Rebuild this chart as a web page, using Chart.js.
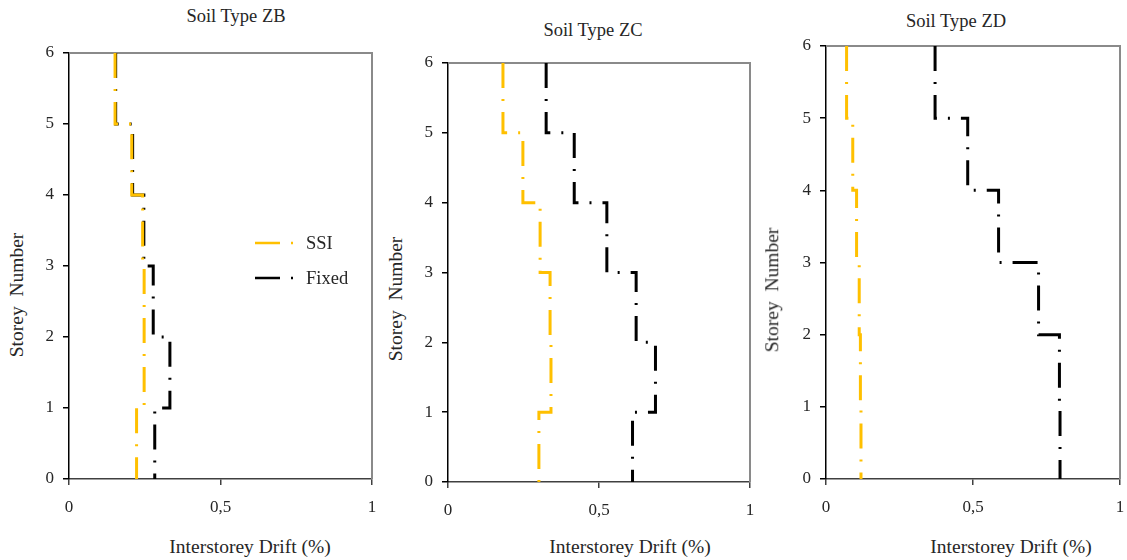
<!DOCTYPE html>
<html>
<head>
<meta charset="utf-8">
<script src="https://cdn.jsdelivr.net/npm/chart.js@4"></script>
<style>
  body {
    margin: 0;
    background: #fff;
    width: 1127px;
    height: 560px;
    position: relative;
    overflow: hidden;
    font-family: "Palatino Linotype", "Book Antiqua", Palatino, "Liberation Serif", serif;
    color: #262626;
  }
  .box { position: absolute; }
  .lbl {
    position: absolute;
    white-space: pre;
    transform: translate(-50%, -50%);
    font-size: 18.5px;
    line-height: 1;
  }
  .axis { font-size: 19.5px; }
  .rot { transform: translate(-50%, -50%) rotate(-90deg); }
</style>
</head>
<body>

<div class="box" id="boxZB"><canvas id="chartZB"></canvas></div>
<div class="box" id="boxZC"><canvas id="chartZC"></canvas></div>
<div class="box" id="boxZD"><canvas id="chartZD"></canvas></div>

<div class="lbl" style="left:236px; top:16px;">Soil Type ZB</div>
<div class="lbl" style="left:593px; top:30px;">Soil Type ZC</div>
<div class="lbl" style="left:956px; top:21px;">Soil Type ZD</div>

<div class="lbl axis" style="left:250px; top:547px;">Interstorey Drift (%)</div>
<div class="lbl axis" style="left:630px; top:547px;">Interstorey Drift (%)</div>
<div class="lbl axis" style="left:1011px; top:547px;">Interstorey Drift (%)</div>

<div class="lbl axis rot" style="left:17px; top:295px;">Storey  Number</div>
<div class="lbl axis rot" style="left:396px; top:299px;">Storey  Number</div>
<div class="lbl axis rot" style="left:772px; top:290px;">Storey  Number</div>

<script>
// storeys 1..6, drift (%) of each storey
const storeys = [1, 2, 3, 4, 5, 6];
const xTicks = [0, 0.5, 1];

const ssiZB   = [0.223, 0.248, 0.248, 0.243, 0.207, 0.152];
const fixedZB = [0.283, 0.333, 0.278, 0.247, 0.210, 0.154];

const ssiZC   = [0.301, 0.341, 0.338, 0.305, 0.248, 0.182];
const fixedZC = [0.611, 0.687, 0.623, 0.526, 0.418, 0.325];

const ssiZD   = [0.119, 0.117, 0.113, 0.104, 0.091, 0.070];
const fixedZD = [0.796, 0.794, 0.723, 0.587, 0.482, 0.371];

const ORANGE = '#FFC000';
const BLACK = '#000000';
const DASH = [25, 11, 2, 11];
const TEXT = '#262626';
const FONT = '"Palatino Linotype", "Book Antiqua", Palatino, "Liberation Serif", serif';

// each storey's drift is held constant between its floor and ceiling;
// the profile is traced from the roof down so the dash pattern starts at the top
function stepPoints(drift) {
  const pts = [];
  for (let i = drift.length - 1; i >= 0; i--) {
    pts.push({ x: drift[i], y: storeys[i] });
    pts.push({ x: drift[i], y: storeys[i] - 1 });
  }
  return pts;
}

// grey top/right edges of the plot box
const frame = {
  id: 'frame',
  beforeDatasetsDraw(chart) {
    const { ctx, chartArea: a } = chart;
    ctx.save();
    ctx.strokeStyle = '#8a8a8a';
    ctx.lineWidth = 2;
    ctx.beginPath();
    ctx.moveTo(a.left, a.top);
    ctx.lineTo(a.right, a.top);
    ctx.lineTo(a.right, a.bottom);
    ctx.stroke();
    ctx.restore();
  }
};

// legend placed inside the first plot
const insideLegend = {
  id: 'insideLegend',
  afterDraw(chart, args, opts) {
    if (!opts.show) return;
    const { ctx, chartArea: a } = chart;
    ctx.save();
    chart.data.datasets.forEach((ds, i) => {
      const x = a.left + opts.x;
      const y = a.top + opts.y + i * opts.gap;
      ctx.strokeStyle = ds.borderColor;
      ctx.lineWidth = 2.5;
      ctx.setLineDash(ds.borderDash);
      ctx.beginPath();
      ctx.moveTo(x, y);
      ctx.lineTo(x + 38, y);
      ctx.stroke();
      ctx.setLineDash([]);
      ctx.fillStyle = TEXT;
      ctx.font = '18.5px ' + FONT;
      ctx.textBaseline = 'middle';
      ctx.fillText(ds.label, x + 51, y + 1);
    });
    ctx.restore();
  }
};

function makeChart(id, boxId, area, ssi, fixed, legend) {
  const PAD_L = 40, PAD_T = 12, PAD_R = 12, PAD_B = 40;
  const box = document.getElementById(boxId);
  box.style.left = (area.left - PAD_L) + 'px';
  box.style.top = (area.top - PAD_T) + 'px';
  box.style.width = (area.right - area.left + PAD_L + PAD_R) + 'px';
  box.style.height = (area.bottom - area.top + PAD_T + PAD_B) + 'px';

  const line = (label, data, color) => ({
    label,
    data,
    showLine: true,
    borderColor: color,
    borderWidth: 3,
    borderDash: DASH,
    borderCapStyle: 'butt',
    borderJoinStyle: 'miter',
    pointRadius: 0,
    tension: 0
  });

  new Chart(document.getElementById(id), {
    type: 'scatter',
    data: {
      datasets: [
        line('SSI', stepPoints(ssi), ORANGE),
        line('Fixed', stepPoints(fixed), BLACK)
      ]
    },
    options: {
      responsive: true,
      maintainAspectRatio: false,
      animation: false,
      layout: { padding: { left: 0, top: PAD_T, right: PAD_R, bottom: 0 } },
      plugins: {
        legend: { display: false },
        tooltip: { enabled: false },
        insideLegend: legend || { show: false }
      },
      scales: {
        x: {
          type: 'linear',
          min: 0,
          max: 1,
          afterBuildTicks: s => { s.ticks = xTicks.map(v => ({ value: v })); },
          afterFit: s => { s.height = PAD_B; s.paddingLeft = 0; s.paddingRight = 0; },
          ticks: {
            color: TEXT,
            font: { family: FONT, size: 17 },
            padding: 12,
            maxRotation: 0,
            callback: v => String(v).replace('.', ',')
          },
          grid: { drawOnChartArea: false, drawTicks: true, tickLength: 6, color: '#404040', lineWidth: 1.5 },
          border: { color: '#404040', width: 1.5 }
        },
        y: {
          min: 0,
          max: 6,
          afterFit: s => { s.width = PAD_L; s.paddingTop = 0; s.paddingBottom = 0; },
          ticks: {
            stepSize: 1,
            color: TEXT,
            font: { family: FONT, size: 17 },
            padding: 9
          },
          grid: { drawOnChartArea: false, drawTicks: true, tickLength: 6, color: '#000', lineWidth: 1.5 },
          border: { color: '#000', width: 1.5 }
        }
      }
    },
    plugins: [frame, insideLegend]
  });
}

makeChart('chartZB', 'boxZB', { left: 69, top: 53, right: 372, bottom: 479 }, ssiZB, fixedZB,
  { show: true, x: 186, y: 190, gap: 35 });
makeChart('chartZC', 'boxZC', { left: 448, top: 63, right: 750, bottom: 482 }, ssiZC, fixedZC);
makeChart('chartZD', 'boxZD', { left: 826, top: 46, right: 1120, bottom: 479 }, ssiZD, fixedZD);
</script>
</body>
</html>
